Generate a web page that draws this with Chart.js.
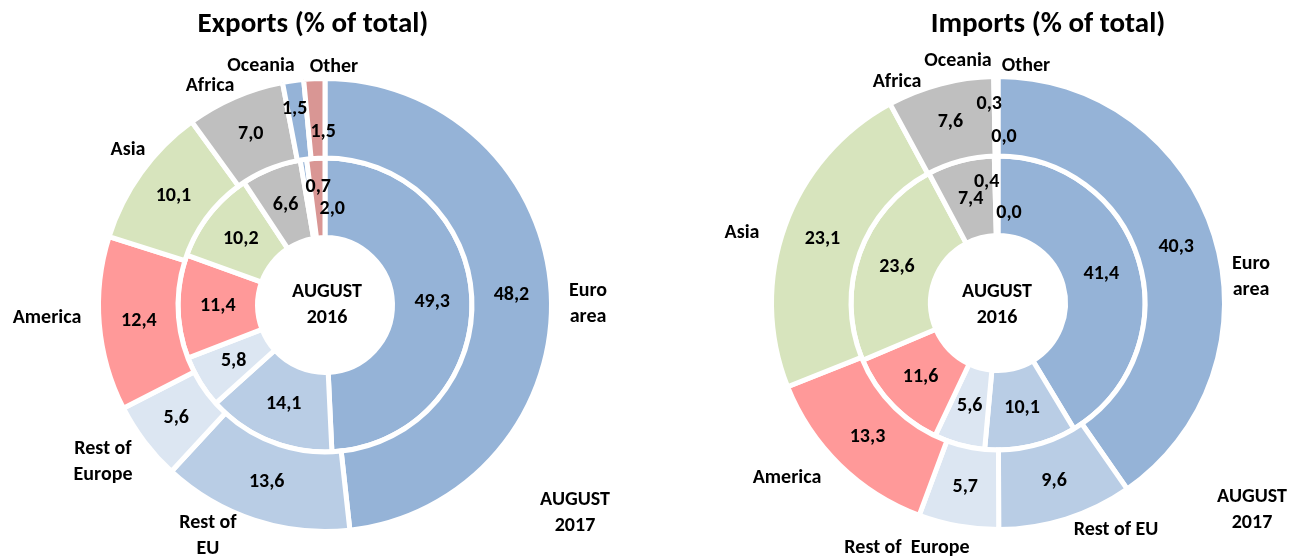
<!DOCTYPE html>
<html>
<head>
<meta charset="utf-8">
<script src="https://cdn.jsdelivr.net/npm/chart.js@4.4.0/dist/chart.umd.min.js"></script>
<style>
html, body { margin: 0; padding: 0; background: #fff; overflow: hidden; }
.box { position: absolute; top: 0; height: 558px; }
#boxExp { left: 0; width: 650px; }
#boxImp { left: 650px; width: 646px; }
</style>
</head>
<body>
<div class="box" id="boxExp"><canvas id="pie_exports"></canvas></div>
<div class="box" id="boxImp"><canvas id="pie_imports"></canvas></div>
<script>
// Данные
const regions = ['Euro area', 'Rest of EU', 'Rest of Europe', 'America', 'Asia', 'Africa', 'Oceania', 'Other']
const exports2017 = [48.2, 13.6, 5.6, 12.4, 10.1, 7.0, 1.5, 1.5]
const exports2016 = [49.3, 14.1, 5.8, 11.4, 10.2, 6.6, 0.7, 2.0]
const imports2017 = [40.3, 9.6, 5.7, 13.3, 23.1, 7.6, 0.3, 0.0]
const imports2016 = [41.4, 10.1, 5.6, 11.6, 23.6, 7.4, 0.4, 0.0]
const colorRegions = ['#95B3D7', '#B9CDE5', '#DCE6F2', '#FF9999', '#D7E4BD', '#BFBFBF', '#95B3D7', '#D99694']

const FONT = 'Carlito, Lato, sans-serif'

// подписи значений и текст вокруг колец
const labelPlugin = {
	id: 'ringLabels',
	afterDatasetsDraw(chart, args, opts) {
		const c = chart.ctx
		const first = chart.getDatasetMeta(0).data[0]
		const cx = first.x, cy = first.y
		c.save()
		c.fillStyle = '#000'
		c.textAlign = 'center'
		c.textBaseline = 'middle'
		c.font = 'bold 20px ' + FONT
		chart.data.datasets.forEach((ds, i) => {
			chart.getDatasetMeta(i).data.forEach((arc, j) => {
				const p = arc.tooltipPosition()
				const s = (opts.shift[i] && opts.shift[i][j]) || [0, 0]
				c.fillText(ds.data[j].toFixed(1).replace('.', ','), p.x + s[0], p.y + s[1])
			})
		})
		opts.texts.forEach(t => {
			t.lines.forEach((line, k) => c.fillText(line, cx + t.dx, cy + t.dy + k * 26))
		})
		c.font = 'bold 29px ' + FONT
		c.fillText(opts.title, cx + opts.titleDx, 25)
		c.restore()
	}
}

function ring(data, label) {
	return {
		label: label,
		data: data,
		backgroundColor: colorRegions,
		borderColor: '#fff',
		borderWidth: 5,
		borderJoinStyle: 'miter',
		hoverOffset: 0
	}
}

function getConfig(outer, inner, padding, labels) {
	return {
		type: 'doughnut',
		data: {
			labels: regions,
			datasets: [ring(outer, 'AUGUST 2017'), ring(inner, 'AUGUST 2016')]
		},
		options: {
			responsive: true,
			maintainAspectRatio: false,
			animation: false,
			radius: 226.5,
			cutout: '29.8%',
			layout: { padding: padding },
			events: [],
			plugins: {
				legend: { display: false },
				tooltip: { enabled: false },
				ringLabels: labels
			}
		},
		plugins: [labelPlugin]
	}
}

const exportsLabels = {
	title: 'Exports (% of total)',
	titleDx: -12,
	shift: { 0: { 6: [-4, -11], 7: [7, 14] }, 1: { 6: [9, -12], 7: [14, 11] } },
	texts: [
		{ lines: ['Oceania'], dx: -64, dy: -239 },
		{ lines: ['Other'], dx: 9, dy: -238 },
		{ lines: ['Africa'], dx: -115, dy: -219 },
		{ lines: ['Asia'], dx: -197, dy: -155 },
		{ lines: ['America'], dx: -278, dy: 13 },
		{ lines: ['Rest of', 'Europe'], dx: -222, dy: 144 },
		{ lines: ['Rest of', 'EU'], dx: -117, dy: 218 },
		{ lines: ['AUGUST', '2017'], dx: 250, dy: 195 },
		{ lines: ['Euro', 'area'], dx: 263, dy: -14 },
		{ lines: ['AUGUST', '2016'], dx: 2, dy: -13 }
	]
}

const importsLabels = {
	title: 'Imports (% of total)',
	titleDx: 50,
	shift: { 0: { 6: [-7, -12], 7: [6, 21] }, 1: { 6: [-10, -14], 7: [11, 17] } },
	texts: [
		{ lines: ['Oceania'], dx: -40, dy: -242 },
		{ lines: ['Other'], dx: 28, dy: -237 },
		{ lines: ['Africa'], dx: -101, dy: -221 },
		{ lines: ['Asia'], dx: -256, dy: -70 },
		{ lines: ['America'], dx: -211, dy: 175 },
		{ lines: ['Rest of  Europe'], dx: -91, dy: 245 },
		{ lines: ['Rest of EU'], dx: 118, dy: 227 },
		{ lines: ['Euro', 'area'], dx: 253, dy: -39 },
		{ lines: ['AUGUST', '2017'], dx: 254, dy: 194 },
		{ lines: ['AUGUST', '2016'], dx: -1, dy: -11 }
	]
}

const pieExports = new Chart(document.getElementById('pie_exports').getContext('2d'),
	getConfig(exports2017, exports2016, { top: 52 }, exportsLabels))
const pieImports = new Chart(document.getElementById('pie_imports').getContext('2d'),
	getConfig(imports2017, imports2016, { left: 50, top: 48 }, importsLabels))
</script>
</body>
</html>
